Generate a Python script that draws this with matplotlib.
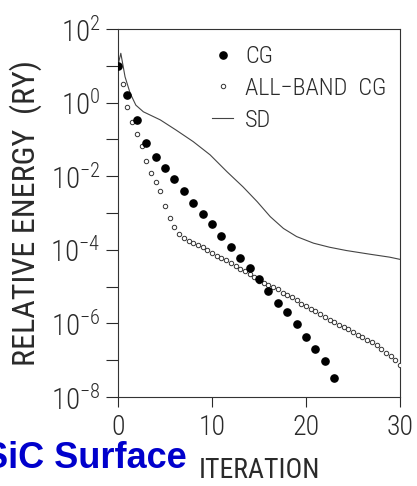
import numpy as np
import matplotlib
matplotlib.use("Agg")
import matplotlib.pyplot as plt
from matplotlib import font_manager
from matplotlib.ticker import FixedLocator, FuncFormatter
from matplotlib.lines import Line2D

# Convergence of the total energy (log10 of relative energy, Ry)
cg_iter = list(range(0, 24))
cg_log = [1.00, 0.21, -0.47, -1.11, -1.47, -1.79, -2.08, -2.40, -2.73, -3.02,
          -3.31, -3.62, -3.93, -4.23, -4.49, -4.80, -5.13, -5.44, -5.69, -6.02,
          -6.37, -6.70, -7.02, -7.48]

allband_iter = [0.5 * k for k in range(1, 61)]
allband_log = [0.51, -0.11, -0.54, -0.85, -1.17, -1.59, -1.92, -2.16, -2.41, -2.80,
               -3.13, -3.39, -3.56, -3.68, -3.76, -3.82, -3.88, -3.93, -4.01, -4.08,
               -4.16, -4.22, -4.29, -4.35, -4.44, -4.51, -4.58, -4.66, -4.75, -4.84,
               -4.91, -4.95, -5.00, -5.07, -5.17, -5.24, -5.29, -5.36, -5.47, -5.53,
               -5.60, -5.67, -5.75, -5.82, -5.90, -5.96, -6.04, -6.09, -6.15, -6.23,
               -6.31, -6.38, -6.45, -6.51, -6.58, -6.70, -6.80, -6.89, -7.00, -7.12]

sd_iter = [0, 0.3, 0.75, 1.3, 1.9, 2.7, 4.5, 6.2, 8.0, 9.8, 11.6, 13.3, 14.8,
           16.2, 17.6, 19.0, 20.8, 22.5, 24.3, 26.8, 28.9, 30]
sd_log = [1.02, 1.34, 0.70, 0.25, -0.07, -0.25, -0.47, -0.75, -1.06, -1.42, -1.88,
          -2.29, -2.69, -3.10, -3.42, -3.64, -3.82, -3.93, -4.02, -4.12, -4.20, -4.26]

series_labels = ["CG", "ALL\u2212BAND  CG", "SD"]
y_tick_exps = list(range(-8, 3))
x_ticks = [0, 10, 20, 30]

# thin, narrow sans for the axis texts, whichever is available
installed = {f.name for f in font_manager.fontManager.ttflist}
preferred = ["Liberation Sans Narrow", "Roboto Condensed", "Roboto", "Liberation Sans"]
face = next((n for n in preferred if n in installed), "DejaVu Sans")

ink = "#2a2a2a"
plt.rcParams["font.family"] = [face, "DejaVu Sans"]
plt.rcParams["font.weight"] = "light"
plt.rcParams["mathtext.default"] = "regular"

fig = plt.figure(figsize=(4.17, 4.86), dpi=100)
ax = fig.add_axes([118 / 417, 1 - 397 / 486, 282 / 417, 368 / 486])

ax.semilogy(sd_iter, [10.0 ** v for v in sd_log], color="#444444", lw=0.8, zorder=2)
ax.semilogy(allband_iter, [10.0 ** v for v in allband_log], ls="none", marker="o",
            ms=3.2, mfc="white", mec="#333333", mew=0.7, zorder=3)
ax.semilogy(cg_iter, [10.0 ** v for v in cg_log], ls="none", marker="o",
            ms=5.2, mfc="black", mec="black", zorder=4)

ax.set_xlim(0, 30)
ax.set_ylim(1e-8, 1e2)

ax.xaxis.set_major_locator(FixedLocator(x_ticks))
ax.yaxis.set_major_locator(FixedLocator([10.0 ** e for e in y_tick_exps]))
ax.yaxis.set_minor_locator(FixedLocator([]))


def ylab(v, pos):
    e = int(round(np.log10(v)))
    if e % 2:
        return ""
    return r"$10^{%d}$" % e


ax.yaxis.set_major_formatter(FuncFormatter(ylab))
ax.tick_params(axis="y", direction="out", length=8.5, width=0.8, pad=4,
               labelsize=21, colors=ink)
ax.tick_params(axis="x", direction="out", length=7.5, width=0.8, pad=5,
               labelsize=20, colors=ink)

for s in ax.spines.values():
    s.set_linewidth(0.8)
    s.set_color("#333333")

ax.set_xlabel("ITERATION", fontsize=20, color=ink, labelpad=11)
ax.set_ylabel("RELATIVE ENERGY  (RY)", fontsize=23, color=ink, labelpad=6)

handles = [
    Line2D([], [], ls="none", marker="o", ms=5.2, mfc="black", mec="black"),
    Line2D([], [], ls="none", marker="o", ms=3.2, mfc="white", mec="#333333", mew=0.7),
    Line2D([], [], color="#444444", lw=0.8),
]
leg = ax.legend(handles, series_labels, loc="upper left", bbox_to_anchor=(0.335, 0.956),
                frameon=False, fontsize=17.5, handlelength=0.85, handletextpad=0.5,
                labelspacing=0.36, borderpad=0, borderaxespad=0)
for t in leg.get_texts():
    t.set_color(ink)

fig.text(187 / 417, 1 - 468 / 486, "SiC Surface", ha="right", va="baseline",
         fontsize=26, fontweight="bold", color="#0000cc",
         family=["Liberation Sans", "DejaVu Sans"])

fig.savefig("out.png", dpi=100)
